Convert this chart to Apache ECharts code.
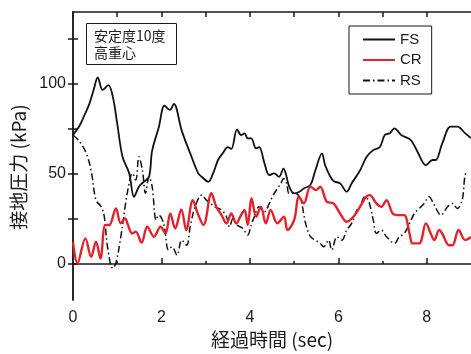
<!DOCTYPE html>
<html>
<head>
<meta charset="utf-8">
<script src="https://cdn.jsdelivr.net/npm/echarts@6/dist/echarts.min.js"></script>
<style>html,body{margin:0;padding:0;background:#fff;}#c{width:471px;height:354px;}</style>
</head>
<body>
<div id="c"></div>
<script>
const seriesNames = ['FS', 'CR', 'RS'];
const xTickLabels = [0, 2, 4, 6, 8];
const yTickLabels = [0, 50, 100];
const yTicks = [0, 25, 50, 75, 100, 125];

const fsData = [
  [0,71.7],[0.15,77],[0.26,82.8],[0.37,89],[0.47,97],[0.56,103.7],[0.67,96.7],[0.8,99.4],[0.9,93],
  [1.0,78],[1.12,59.6],[1.27,50.5],[1.38,37.4],[1.49,43],[1.6,45.7],[1.72,48.5],[1.79,63],[1.94,76],
  [2.07,88],[2.19,85.6],[2.28,89],[2.46,74],[2.68,59.6],[2.83,50.5],[2.91,48.5],[3.06,45.7],[3.17,50.5],
  [3.28,57.8],[3.39,61.7],[3.5,65],[3.58,64],[3.71,74.8],[3.8,71.7],[3.88,72.6],[3.95,69.8],[4.03,69.8],
  [4.14,64.3],[4.21,65],[4.33,56],[4.44,49.4],[4.55,50.4],[4.66,48.5],[4.76,53],[4.81,50.4],[4.89,43],
  [5.0,39.3],[5.11,40],[5.22,42],[5.37,44],[5.48,52],[5.63,61.5],[5.7,55],[5.82,48.5],[5.9,46],
  [6.04,44.8],[6.19,40.2],[6.3,44.8],[6.49,52],[6.64,59.6],[6.79,63.3],[6.94,65],[7.05,71.7],[7.16,72.6],
  [7.27,75.4],[7.42,71.7],[7.64,68.9],[7.79,62.4],[7.98,55],[8.13,57.8],[8.2,57.8],[8.35,67],[8.54,76.3],
  [8.69,76.3],[8.87,72.6],[9.0,70]
];

const crData = [
  [0,12],[0.1,0.4],[0.28,14.3],[0.41,4],[0.52,12.4],[0.62,3.1],[0.73,21.7],[0.82,21.7],[0.97,30.9],
  [1.08,22.6],[1.18,25.4],[1.23,22.6],[1.34,17],[1.42,18],[1.55,11.9],[1.68,20.7],[1.83,15.2],[1.98,20.7],
  [2.09,17],[2.2,28.1],[2.31,19.8],[2.45,30.4],[2.56,18.9],[2.71,35.5],[2.82,28.1],[2.95,21.7],[3.13,39.3],
  [3.24,31.8],[3.36,27.2],[3.47,22.6],[3.58,28.1],[3.69,22.6],[3.8,27.2],[3.88,30],[3.95,21.7],[4.04,36.5],
  [4.14,26.3],[4.25,31.8],[4.36,22.6],[4.47,30],[4.62,22.6],[4.77,26.3],[4.85,18.9],[5.0,24.4],[5.11,37.4],
  [5.22,33.7],[5.37,43],[5.5,41.1],[5.59,43],[5.74,34.6],[5.89,33.7],[6.04,28.1],[6.19,23.5],[6.34,26.3],
  [6.49,31.8],[6.63,37.4],[6.71,38.3],[6.86,33.7],[6.97,31.8],[7.09,35.5],[7.23,28.1],[7.38,27.2],[7.49,27.2],
  [7.61,17],[7.68,11.5],[7.83,11.5],[7.98,22.6],[8.09,17],[8.17,13.3],[8.28,18.9],[8.35,17],[8.5,10.5],
  [8.58,10.5],[8.72,18.9],[8.87,13.3],[9.0,15]
];

const rsData = [
  [0,71.7],[0.15,68],[0.3,61.5],[0.41,52],[0.52,35.5],[0.64,31.8],[0.71,26],[0.78,9.6],[0.9,-2.4],
  [0.97,0.5],[1.08,15],[1.19,33.7],[1.27,44.8],[1.34,50.4],[1.42,46.7],[1.49,59.6],[1.57,52],[1.64,39.3],
  [1.72,48.5],[1.79,43],[1.88,24.4],[1.94,27.2],[2.05,22.6],[2.16,7.8],[2.24,9.6],[2.35,5],[2.46,13.3],
  [2.57,10.5],[2.65,20.7],[2.76,31.8],[2.91,38.3],[3.02,35.5],[3.21,31.8],[3.36,30],[3.47,26.3],[3.54,20.7],
  [3.62,25.4],[3.71,21.7],[3.84,19.8],[3.95,16.1],[4.03,21.7],[4.1,26.3],[4.21,31.8],[4.33,29],[4.44,33.7],
  [4.51,37.4],[4.62,42],[4.7,44.8],[4.76,47.6],[4.83,44.8],[4.89,39.3],[5.03,39.3],[5.15,35.5],[5.26,22.6],
  [5.37,15.2],[5.48,13.3],[5.59,11.5],[5.67,9.6],[5.78,13.3],[5.85,7.8],[5.97,15.2],[6.08,13.3],[6.19,18.9],
  [6.3,22.6],[6.42,30],[6.49,31.8],[6.6,37.4],[6.68,35.5],[6.79,24.4],[6.86,17],[6.97,18.9],[7.09,15.2],
  [7.27,11.5],[7.38,15.2],[7.49,17],[7.61,22.6],[7.72,28.1],[7.83,30.9],[7.94,33.7],[8.05,37.4],[8.17,32.8],
  [8.32,27.2],[8.47,31.8],[8.58,33.7],[8.69,30.9],[8.8,35.5],[8.86,48.5],[8.9,52]
];

const LAT = '"Liberation Sans", Arial, sans-serif';
const CJK = '"Noto Sans CJK JP", "Liberation Sans", sans-serif';
const ink = '#1a1a1a';

const chart = echarts.init(document.getElementById('c'), null, {renderer: 'canvas'});
chart.setOption({
  animation: false,
  backgroundColor: '#fff',
  title: {
    text: '安定度10度\n高重心',
    left: 86, top: 23,
    padding: [4, 11, 4, 8],
    borderColor: ink, borderWidth: 1,
    textStyle: {fontFamily: CJK, fontSize: 14, fontWeight: 'normal', color: ink, lineHeight: 17}
  },
  legend: {
    data: seriesNames,
    orient: 'vertical',
    left: 349, top: 26,
    padding: [6, 10, 6, 13],
    borderColor: ink, borderWidth: 1,
    itemWidth: 32, itemHeight: 12, itemGap: 5.5,
    itemStyle: {opacity: 0},
    textStyle: {fontFamily: LAT, fontSize: 15, color: ink}
  },
  grid: {left: 73, top: 12, bottom: 53, right: -2.5},
  xAxis: [
    {
      type: 'value', min: 0, max: 9, position: 'bottom',
      name: '経過時間 (sec)', nameLocation: 'middle', nameGap: 29,
      nameTextStyle: {fontFamily: CJK, fontSize: 19, color: ink},
      axisLine: {show: true, lineStyle: {color: ink, width: 1.5}},
      axisTick: {show: true, inside: true, length: 6, customValues: xTickLabels, lineStyle: {color: ink, width: 1.5}},
      axisLabel: {customValues: xTickLabels, margin: 9, fontFamily: LAT, fontSize: 16, color: ink},
      splitLine: {show: false}
    },
    {
      type: 'value', min: 0, max: 9, position: 'bottom',
      axisLine: {show: false},
      axisTick: {show: true, inside: true, length: 3, customValues: [1, 3, 5, 7], lineStyle: {color: ink, width: 1.5}},
      axisLabel: {show: false},
      splitLine: {show: false}
    },
    {
      type: 'value', min: 0, max: 9, position: 'top',
      axisLine: {show: true, lineStyle: {color: ink, width: 1.5}},
      axisTick: {show: true, inside: true, length: 5, customValues: [0, 1, 2, 3, 4, 5, 6, 7, 8], lineStyle: {color: ink, width: 1.5}},
      axisLabel: {show: false},
      splitLine: {show: false}
    }
  ],
  yAxis: [
    {
      type: 'value', min: -20, max: 140, position: 'left',
      name: '接地圧力 (kPa)', nameLocation: 'middle', nameGap: 44, nameRotate: 90,
      nameTextStyle: {fontFamily: CJK, fontSize: 19, color: ink, padding: [0, 22, 0, 0]},
      axisLine: {show: true, lineStyle: {color: ink, width: 1.5}},
      axisTick: {show: true, inside: true, length: 5, customValues: yTicks, lineStyle: {color: ink, width: 1.5}},
      axisLabel: {customValues: yTickLabels, margin: 7, fontFamily: LAT, fontSize: 16, color: ink},
      splitLine: {show: false}
    },
    {
      type: 'value', min: -20, max: 140, position: 'right',
      axisLine: {show: true, lineStyle: {color: ink, width: 1.5}},
      axisTick: {show: true, inside: true, length: 5, customValues: yTicks, lineStyle: {color: ink, width: 1.5}},
      axisLabel: {show: false},
      splitLine: {show: false}
    }
  ],
  series: [
    {
      name: 'FS', type: 'line', data: fsData, symbol: 'none', smooth: 0.35,
      lineStyle: {color: '#111', width: 1.8}, itemStyle: {color: '#111'}, z: 3
    },
    {
      name: 'CR', type: 'line', data: crData, symbol: 'none', smooth: 0.35,
      lineStyle: {color: '#e3232c', width: 2.4}, itemStyle: {color: '#e3232c'}, z: 4
    },
    {
      name: 'RS', type: 'line', data: rsData, symbol: 'none', smooth: 0.35,
      lineStyle: {color: '#111', width: 1.5, type: [7, 3, 1.5, 3]}, itemStyle: {color: '#111'}, z: 2
    }
  ]
});
</script>
</body>
</html>
